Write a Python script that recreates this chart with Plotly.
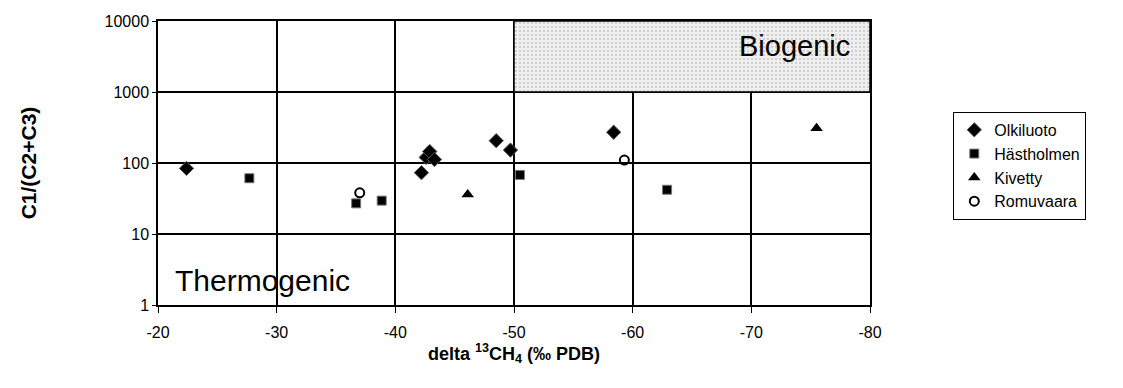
import plotly.graph_objects as go

# Data
olk_x = [-22.4, -42.2, -42.6, -42.9, -43.3, -48.5, -49.7, -58.4]
olk_y = [84, 73, 120, 145, 112, 206, 152, 271]
has_x = [-27.7, -36.7, -38.85, -50.5, -62.9]
has_y = [61, 27, 29.5, 68, 42]
kiv_x = [-46.1, -75.5]
kiv_y = [36, 308]
rom_x = [-37.0, -59.3]
rom_y = [38, 110]

x_ticks = [-20, -30, -40, -50, -60, -70, -80]
y_ticks = [1, 10, 100, 1000, 10000]

bio_x = [-50, -80, -80, -50, -50]
bio_y = [1000, 1000, 10000, 10000, 1000]

FONT = "Liberation Sans, Arial, sans-serif"

fig = go.Figure()

fig.add_trace(go.Scatter(
    x=bio_x, y=bio_y, mode="lines", fill="toself", showlegend=False,
    line=dict(color="black", width=1.5),
    fillcolor="rgba(225,225,225,1)",
    fillpattern=dict(shape=".", fgcolor="#9a9a9a", bgcolor="#efefef", size=4, solidity=0.2),
    hoverinfo="skip",
))

fig.add_trace(go.Scatter(x=olk_x, y=olk_y, mode="markers", name="Olkiluoto",
                         marker=dict(symbol="diamond", size=11, color="black",
                                     line=dict(color="#555", width=1))))
fig.add_trace(go.Scatter(x=has_x, y=has_y, mode="markers", name="Hästholmen",
                         marker=dict(symbol="square", size=9, color="black",
                                     line=dict(color="#777", width=1))))
fig.add_trace(go.Scatter(x=kiv_x, y=kiv_y, mode="markers", name="Kivetty",
                         marker=dict(symbol="triangle-up", size=11, color="black")))
fig.add_trace(go.Scatter(x=rom_x, y=rom_y, mode="markers", name="Romuvaara",
                         marker=dict(symbol="circle-open", size=9, color="black",
                                     line=dict(color="black", width=2))))

fig.add_annotation(x=-80, y=3.65, xref="x", yref="y", text="Biogenic", showarrow=False,
                   xanchor="right", xshift=-18, font=dict(family=FONT, size=29, color="black"))
fig.add_annotation(x=-21.3, y=0.35, xref="x", yref="y", text="Thermogenic", showarrow=False,
                   xanchor="left", font=dict(family=FONT, size=30, color="black"))

fig.update_layout(
    width=1115, height=380,
    margin=dict(l=150, r=253, t=13, b=83),
    paper_bgcolor="white", plot_bgcolor="white",
    font=dict(family=FONT, size=16, color="black"),
    legend=dict(x=1.117, y=0.68, xanchor="left", yanchor="top",
                bordercolor="black", borderwidth=1, bgcolor="white",
                font=dict(family=FONT, size=16, color="black"),
                itemwidth=30, tracegroupgap=0),
    showlegend=True,
)

fig.update_xaxes(
    range=[-20, -80], tickvals=x_ticks, ticktext=[str(v) for v in x_ticks],
    showgrid=True, gridcolor="black", gridwidth=1.5, zeroline=False,
    showline=True, linecolor="black", linewidth=1.5, mirror=True,
    ticks="outside", ticklen=6, tickcolor="black", ticklabelstandoff=6,
    tickfont=dict(family=FONT, size=16),
    title=dict(text="<b>delta <sup>13</sup>CH<sub>4</sub> (‰ PDB)</b>",
               font=dict(family=FONT, size=18), standoff=7),
    automargin=False,
)
fig.update_yaxes(
    type="log", range=[0, 4], tickvals=y_ticks, ticktext=[str(v) for v in y_ticks],
    showgrid=True, gridcolor="black", gridwidth=1.5, zeroline=False,
    showline=True, linecolor="black", linewidth=1.5, mirror=True,
    ticks="outside", ticklen=4, tickcolor="black",
    tickfont=dict(family=FONT, size=16),
    title=dict(text="<b>C1/(C2+C3)</b>", font=dict(family=FONT, size=21), standoff=62),
    automargin=False,
)

fig.write_html("out.html")
